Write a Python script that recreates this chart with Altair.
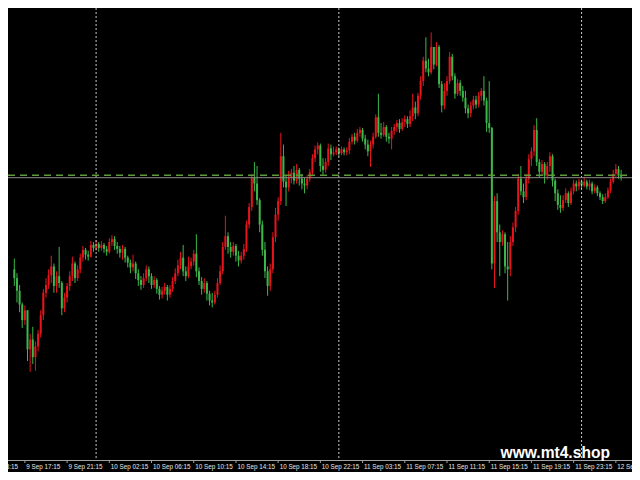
import altair as alt
import pandas as pd

# ---- data (M15 candles, price in points) ----
first_open = 212
close = [203, 190, 176, 160, 170, 130, 140, 122, 133, 146,
         165, 188, 196, 206, 215, 195, 205, 198, 172, 183,
         195, 205, 218, 203, 212, 224, 232, 227, 225, 237,
         234, 238, 234, 237, 233, 230, 240, 243, 236, 233,
         229, 233, 224, 219, 214, 218, 208, 201, 196, 203,
         212, 205, 196, 201, 192, 186, 190, 194, 186, 192,
         200, 208, 216, 224, 210, 205, 215, 220, 228, 210,
         200, 192, 198, 187, 180, 178, 186, 198, 210, 235,
         246, 235, 230, 236, 226, 221, 226, 233, 258, 276,
         306, 300, 283, 258, 232, 210, 195, 212, 245, 268,
         282, 328, 302, 296, 306, 311, 303, 314, 305, 300,
         298, 305, 312, 326, 335, 339, 318, 314, 322, 336,
         330, 332, 335, 331, 335, 332, 334, 343, 348, 344,
         352, 355, 346, 340, 333, 340, 348, 368, 352, 350,
         358, 348, 346, 354, 358, 362, 356, 363, 366, 361,
         369, 378, 372, 390, 405, 426, 418, 414, 440, 422,
         440, 402, 380, 395, 405, 430, 410, 392, 403, 395,
         388, 377, 372, 380, 386, 381, 390, 395, 385, 362,
         357, 218, 282, 250, 240, 248, 215, 212, 240, 255,
         272, 305, 292, 286, 305, 325, 333, 355, 322, 312,
         320, 308, 318, 328, 303, 290, 278, 275, 283, 290,
         280, 292, 300, 297, 302, 298, 302, 297, 300, 292,
         296, 290, 286, 282, 286, 293, 302, 310, 315, 308,
         307]
high = [223, 208, 196, 178, 175, 170, 146, 153, 138, 150,
        170, 192, 203, 212, 226, 218, 210, 235, 200, 188,
        198, 210, 225, 220, 216, 228, 236, 234, 231, 241,
        240, 242, 240, 241, 239, 236, 244, 247, 246, 240,
        236, 237, 235, 226, 222, 227, 220, 212, 205, 208,
        216, 215, 208, 205, 203, 195, 194, 198, 196, 196,
        204, 213, 222, 230, 237, 215, 225, 224, 232, 248,
        214, 204, 203, 200, 190, 188, 190, 203, 216, 240,
        267, 250, 240, 240, 238, 231, 230, 238, 262, 280,
        310, 322, 318, 285, 262, 240, 215, 218, 250, 275,
        286, 352, 340, 308, 313, 315, 318, 320, 316, 310,
        306, 309, 315, 330, 339, 342, 341, 326, 326, 341,
        340, 338, 338, 337, 338, 337, 337, 347, 351, 352,
        356, 358, 357, 350, 345, 344, 352, 371, 392, 362,
        363, 360, 352, 358, 361, 365, 366, 367, 370, 369,
        375, 392, 384, 393, 410, 430, 450, 428, 455, 440,
        445, 442, 405, 403, 410, 435, 433, 413, 407, 406,
        400, 395, 381, 384, 390, 390, 394, 398, 410, 388,
        405, 358, 287, 290, 258, 252, 250, 240, 246, 260,
        276, 310, 318, 300, 310, 330, 337, 360, 367, 325,
        324, 322, 322, 332, 330, 305, 294, 288, 288, 295,
        292, 296, 304, 303, 305, 304, 307, 304, 304, 302,
        299, 298, 292, 289, 290, 296, 305, 314, 320, 318,
        314]
low = [195, 178, 168, 152, 155, 118, 107, 115, 108, 128,
       142, 160, 183, 192, 198, 188, 188, 193, 165, 168,
       178, 190, 200, 198, 200, 208, 220, 222, 221, 224,
       230, 231, 230, 231, 229, 226, 228, 236, 232, 228,
       224, 222, 219, 214, 208, 210, 202, 195, 191, 193,
       200, 198, 192, 193, 187, 181, 182, 186, 180, 183,
       189, 197, 205, 212, 205, 200, 203, 212, 216, 204,
       196, 186, 188, 180, 175, 173, 176, 183, 196, 207,
       232, 228, 224, 226, 220, 215, 218, 222, 230, 254,
       272, 292, 278, 250, 226, 203, 185, 190, 208, 240,
       262, 278, 296, 277, 292, 300, 299, 300, 298, 294,
       290, 294, 302, 309, 322, 330, 312, 309, 311, 318,
       324, 328, 329, 328, 329, 329, 329, 330, 340, 340,
       342, 348, 343, 335, 328, 317, 336, 346, 348, 346,
       348, 343, 341, 335, 350, 353, 352, 354, 358, 357,
       358, 364, 366, 369, 386, 400, 414, 410, 412, 417,
       420, 398, 373, 376, 390, 402, 406, 387, 390, 390,
       384, 372, 367, 368, 376, 377, 378, 385, 380, 353,
       352, 212, 193, 240, 205, 236, 208, 180, 205, 236,
       250, 268, 288, 280, 283, 300, 318, 328, 318, 306,
       308, 300, 304, 312, 297, 282, 273, 270, 272, 280,
       276, 278, 289, 292, 293, 295, 296, 294, 293, 289,
       290, 287, 283, 279, 280, 284, 290, 300, 307, 305,
       303]

tick_index = [-12, 4, 20, 36, 52, 68, 84, 100, 116, 132, 148, 164, 180, 196, 212, 228]
tick_labels = ["9 Sep 13:15", "9 Sep 17:15", "9 Sep 21:15", "10 Sep 02:15",
               "10 Sep 06:15", "10 Sep 10:15", "10 Sep 14:15", "10 Sep 18:15",
               "10 Sep 22:15", "11 Sep 03:15", "11 Sep 07:15", "11 Sep 11:15",
               "11 Sep 15:15", "11 Sep 19:15", "11 Sep 23:15", "12 Sep 04:15"]
day_breaks = [31, 123, 215]
bid_price = [306]
level_price = [308.5]
watermark = ["www.mt4.shop"]

# ---- build table ----
opens = [first_open] + close[:-1]
df = pd.DataFrame({
    "i": list(range(len(close))),
    "open": opens,
    "close": close,
    "high": high,
    "low": low,
})
df["dir"] = ["up" if c >= o else "down" for o, c in zip(opens, close)]

UP = "#e8141c"
DOWN = "#3cb84a"
W, H = 624, 452

xs = alt.Scale(domain=[-0.5, 232.227], nice=False, zero=False)
ys = alt.Scale(domain=[16.5, 480], nice=False, zero=False)
col = alt.Color("dir:N", scale=alt.Scale(domain=["up", "down"], range=[UP, DOWN]), legend=None)

base = alt.Chart(df)
wicks = base.mark_rule(strokeWidth=1).encode(
    x=alt.X("i:Q", scale=xs, axis=None),
    y=alt.Y("low:Q", scale=ys, axis=None),
    y2="high:Q",
    color=col,
)
bodies = base.mark_bar(size=2).encode(
    x=alt.X("i:Q", scale=xs, axis=None),
    y=alt.Y("open:Q", scale=ys, axis=None),
    y2="close:Q",
    color=col,
)

seps = alt.Chart(pd.DataFrame({"i": day_breaks})).mark_rule(
    color="#c8c8c8", strokeDash=[2, 2], strokeWidth=1
).encode(x=alt.X("i:Q", scale=xs, axis=None), y=alt.value(0), y2=alt.value(H))

bid = alt.Chart(pd.DataFrame({"p": bid_price})).mark_rule(
    color="#8a8a8a", strokeWidth=1
).encode(y=alt.Y("p:Q", scale=ys, axis=None), x=alt.value(0), x2=alt.value(W))

lvl = alt.Chart(pd.DataFrame({"p": level_price})).mark_rule(
    color="#5f9a3a", strokeWidth=1.5, strokeDash=[7, 5]
).encode(y=alt.Y("p:Q", scale=ys, axis=None), x=alt.value(0), x2=alt.value(W))

tdf = pd.DataFrame({"i": tick_index, "label": tick_labels})
axis_line = alt.Chart(pd.DataFrame({"a": [0]})).mark_rule(color="#a0a0a0", strokeWidth=1).encode(
    y=alt.value(H + 0.5), x=alt.value(0), x2=alt.value(W))
ticks = alt.Chart(tdf).mark_rule(color="#a0a0a0", strokeWidth=1).encode(
    x=alt.X("i:Q", scale=xs, axis=None), y=alt.value(H), y2=alt.value(H + 3))
labels = alt.Chart(tdf).mark_text(
    align="left", baseline="middle", dx=1.5, fontSize=6.3,
    font="Liberation Sans Narrow, Liberation Sans", color="#e6e6e6"
).encode(x=alt.X("i:Q", scale=xs, axis=None), y=alt.value(H + 7), text="label:N")

wm = alt.Chart(pd.DataFrame({"t": watermark})).mark_text(
    align="left", baseline="alphabetic", font="Liberation Sans", fontWeight="bold",
    fontSize=15.6, color="#ffffff"
).encode(x=alt.value(492.5), y=alt.value(450), text="t:N")

chart = alt.layer(wicks, bodies, seps, bid, lvl, axis_line, ticks, labels, wm).properties(
    width=W, height=H,
    autosize=alt.AutoSizeParams(type="none"),
    padding={"left": 0, "top": 0, "right": 0, "bottom": 12},
).configure(background="#000000").configure_view(strokeWidth=0, fill="#000000")

chart.save("out.html", embed_options={"renderer": "svg", "actions": False})
